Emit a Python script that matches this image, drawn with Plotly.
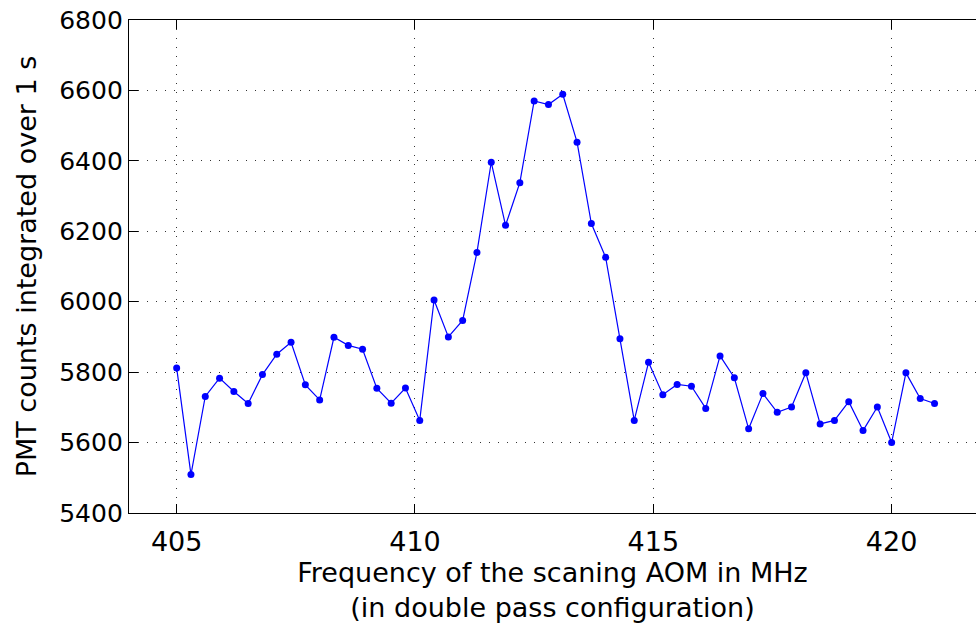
import plotly.graph_objects as go

freq_mhz = [405.0, 405.3, 405.6, 405.9, 406.2, 406.5, 406.8, 407.1, 407.4, 407.7,
            408.0, 408.3, 408.6, 408.9, 409.2, 409.5, 409.8, 410.1, 410.4, 410.7,
            411.0, 411.3, 411.6, 411.9, 412.2, 412.5, 412.8, 413.1, 413.4, 413.7,
            414.0, 414.3, 414.6, 414.9, 415.2, 415.5, 415.8, 416.1, 416.4, 416.7,
            417.0, 417.3, 417.6, 417.9, 418.2, 418.5, 418.8, 419.1, 419.4, 419.7,
            420.0, 420.3, 420.6, 420.9]
pmt_counts = [5812, 5509, 5731, 5783, 5745, 5711, 5793, 5851, 5885, 5764,
              5721, 5899, 5876, 5865, 5754, 5712, 5755, 5663, 6005, 5900,
              5947, 6140, 6396, 6217, 6338, 6570, 6560, 6589, 6453, 6222,
              6126, 5895, 5663, 5828, 5736, 5765, 5760, 5697, 5846, 5784,
              5639, 5739, 5686, 5701, 5798, 5653, 5663, 5716, 5634, 5701,
              5600, 5798, 5725, 5711]
x_ticks = [405, 410, 415, 420]
y_ticks = [5400, 5600, 5800, 6000, 6200, 6400, 6600, 6800]

fig = go.Figure()
fig.add_trace(go.Scatter(
    x=freq_mhz, y=pmt_counts, mode="lines+markers",
    line=dict(color="#0000FF", width=1.2),
    marker=dict(color="#0000FF", size=7),
    showlegend=False,
))

fnt = "DejaVu Sans, Liberation Sans, Arial, sans-serif"

fig.update_layout(
    width=976, height=624,
    margin=dict(l=129, r=0, t=20, b=111),
    paper_bgcolor="white", plot_bgcolor="white",
    font=dict(family=fnt, color="black", size=24),
)
fig.update_xaxes(
    range=[404, 421.77], tickvals=x_ticks, ticktext=[str(v) for v in x_ticks],
    tickfont=dict(family=fnt, size=27), ticklabelstandoff=4,
    title=dict(text="Frequency of the scaning AOM in MHz<br>(in double pass configuration)",
               font=dict(family=fnt, size=27), standoff=6),
    showline=True, linecolor="black", linewidth=1.3, mirror="allticks",
    ticks="inside", ticklen=9, tickcolor="black", tickwidth=1,
    showgrid=True, gridcolor="#333333", griddash="1px,8px", gridwidth=1,
    zeroline=False,
)
fig.update_yaxes(
    range=[5400, 6800], tickvals=y_ticks,
    tickfont=dict(family=fnt, size=25),
    title=dict(text="PMT counts integrated over 1 s", font=dict(family=fnt, size=27), standoff=14),
    showline=True, linecolor="black", linewidth=1.3, mirror=False,
    ticks="inside", ticklen=9, tickcolor="black", tickwidth=1,
    showgrid=True, gridcolor="#333333", griddash="1px,8px", gridwidth=1,
    zeroline=False,
)

fig.write_html("out.html", config={"displayModeBar": False},
               post_script="document.body.style.margin='0';")
